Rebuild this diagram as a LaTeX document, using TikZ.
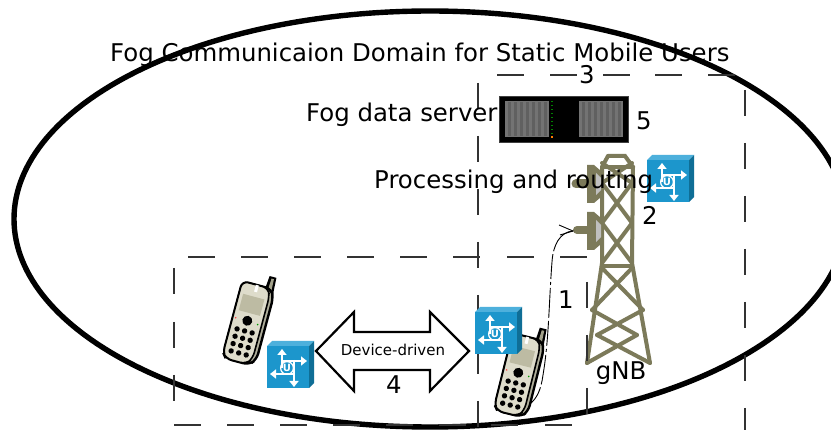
\documentclass[tikz,border=0pt]{standalone}
\usepackage{fontspec}
\usetikzlibrary{arrows.meta}
\setmainfont{DejaVu Sans}
\definecolor{towerc}{HTML}{7C7A5A}
\definecolor{routerf}{HTML}{1C96CC}
\definecolor{routers}{HTML}{0F6E96}
\definecolor{routert}{HTML}{4DB0DC}
\definecolor{dashc}{HTML}{333333}
\definecolor{phoneb}{HTML}{DEDCCB}
\definecolor{phones}{HTML}{BDBBA3}
\definecolor{rackc}{HTML}{808080}
\tikzset{
  x=1pt,y=-1pt,
  lab/.style={font=\fontsize{24.4}{28}\selectfont,inner sep=0pt,text=black},
  boxdash/.style={draw=dashc,line width=1.2pt},
  bar/.style={draw=towerc,line width=4pt,line cap=round},
  rarrow/.style={draw=white,line width=2.2pt,-{Triangle[width=9pt,length=6pt,fill=white]}},
  pics/router/.style={code={
    \fill[routerf] (0,0) rectangle (42,42);
    \fill[routert] (0,0) -- (5,-5) -- (47,-5) -- (42,0) -- cycle;
    \fill[routers] (42,0) -- (47,-5) -- (47,37) -- (42,42) -- cycle;
    \draw[rarrow] (15,22) -- (15,3);
    \draw[rarrow] (14,15) -- (40,15);
    \draw[rarrow] (27,14) -- (27,41);
    \draw[rarrow] (27,28) -- (3,28);
    \draw[white,line width=1.2pt] (20,22) circle (6.4);
    \node[white,inner sep=0pt,font=\fontsize{10}{10}\selectfont\bfseries] at (20,22) {U};
  }},
  pics/phone/.style={code={
    \fill[black] (8,-38) -- (9,-50) -- (16,-50) -- (17,-34) -- cycle;
    \fill[towerc!70] (11,-38) -- (11.5,-48) -- (14,-48) -- (14.5,-36) -- cycle;
    \draw[black,line width=2.4pt,fill=towerc!60!white,rounded corners=6pt] (-16,-38) -- (14,-38) -- (18,-30) -- (18,34) -- (12,41) -- (-12,41) -- (-16,36) -- cycle;
    \draw[black,line width=1.6pt,fill=phoneb,rounded corners=6pt] (-16,-38) -- (11,-38) -- (14,-30) -- (14,34) -- (9,41) -- (-12,41) -- (-16,36) -- cycle;
    \fill[phones] (-12,-26) rectangle (10,-9);
    \fill[white] (-2,-38) rectangle (1,-31);
    \fill[black] (-1,-1) circle (5);
    \fill[red!70] (-13,-1) circle (.9);
    \fill[green!60!black] (10,0) circle (.9);
    \foreach \r in {0,1,2,3} \foreach \c in {-1,0,1}
      \fill[black] ({-1+\c*7.8},{9.5+\r*7.6}) circle (2.7);
  }}
}
\begin{document}
\begin{tikzpicture}[line join=miter]
\useasboundingbox (0,0) rectangle (831,430);
\begin{scope}
\clip (0,0) rectangle (831,430);
\fill[white] (0,0) rectangle (831,430);
% ellipse
\draw[black,line width=5.4pt] (430,219) ellipse [x radius=416,y radius=208];
% tower
\draw[bar] (608,156) -- (625,156) -- (633,167) -- (632,263) -- (650,363);
\draw[bar] (608,156) -- (602,167) -- (602,263) -- (587,363);
\draw[bar] (602,167) -- (633,167);
\draw[bar] (602,163) -- (632,183) (632,163) -- (602,183);
\draw[bar] (602,183) -- (632,223) (632,183) -- (602,223);
\draw[bar] (602,223) -- (632,263) (632,223) -- (602,263);
\draw[bar] (602,266) -- (632,266);
\draw[bar] (602,268) -- (643,310) (632,268) -- (592,310);
\draw[bar] (592,310) -- (637,335) (643,310) -- (597,335);
\draw[bar] (597,335) -- (650,363) (637,335) -- (587,363);
% antennas
\foreach \yy in {165,212}{
  \fill[towerc] (587,\yy) -- (594,\yy) -- (601,{\yy+6}) -- (601,{\yy+32}) -- (594,{\yy+38}) -- (587,{\yy+38}) -- cycle;
  \fill[black!25] (596,{\yy+8}) -- (601,{\yy+13}) -- (601,{\yy+25}) -- (596,{\yy+30}) -- cycle;
}
\draw[towerc,line width=9pt,line cap=round] (576,184) -- (590,184);
\draw[towerc,line width=8pt,line cap=round] (577,230) -- (590,230);
% link
\coordinate (ant) at (573,231);
\coordinate (farend) at (530,404);
\draw[black,line width=.9pt] (559,225) -- (ant) -- (560,235);
\draw[black,line width=.9pt,dash pattern=on 30pt off 3pt on 25pt off 3pt on 3pt off 3pt] (ant) .. controls (560,232) and (553,245) .. (552,262) .. controls (549,300) and (549,340) .. (543,375) .. controls (541,390) and (537,398) .. (farend);
% server
\node[fill=black,draw=black!75,line width=.7pt,minimum width=129pt,minimum height=46pt,inner sep=0pt] (srv) at (563.5,119) {};
\foreach \xa in {505,579}{
  \fill[black!55] (\xa,101) rectangle ({\xa+44},137);
  \foreach \i in {0,...,6}
    \fill[black!25!rackc] ({\xa+3+\i*6},102) rectangle ({\xa+6+\i*6},136);
}
\foreach \yd in {101,105,...,137} \fill[green!50!black] (551,\yd) rectangle (553,{\yd+1.5});
\fill[orange] (551,136) rectangle (553,138);
% dashed boxes
\foreach \xs in {188,241,294,347,400,453,507,560} \draw[boxdash] (\xs,257) -- ({\xs+26.5},257);
\foreach \ys in {268,322,375} \draw[boxdash] (174,\ys) -- (174,{\ys+26.5});
\foreach \xs in {174,227,280,333,386,439,491,545} \draw[boxdash] (\xs,425) -- ({\xs+26.5},425);
\foreach \ys in {282,335,388} \draw[boxdash] (587,\ys) -- (587,{\ys+26.5});
\foreach \xs in {497,550,603,655,708} \draw[boxdash] (\xs,75) -- ({\xs+26.5},75);
\foreach \ys in {83,136,189,242,295,348,401} \draw[boxdash] (478,\ys) -- (478,{\ys+26.5});
\foreach \ys in {90,143,196,249,302,355,408} \draw[boxdash] (745,\ys) -- (745,{\ys+26.5});
% routers and phones
\pic at (647,160) {router};
\pic[rotate=-15] at (248,322) {phone};
\pic at (267,346) {router};
\pic[rotate=-14] at (519,374) {phone};
\pic at (475,312) {router};
% double arrow
\draw[black,line width=2.2pt,fill=white,line join=miter] (316,351) -- (354,312) -- (354,332) -- (430,332) -- (430,312) -- (469,351) -- (430,391) -- (430,370) -- (354,370) -- (354,391) -- cycle;
\node[font=\fontsize{15}{18}\selectfont,inner sep=0pt,text=black] (dd) at (393,350) {Device-driven};
% labels
\node[lab,anchor=base west] (title) at (110,62) {Fog Communicaion Domain for Static Mobile Users};
\node[lab,anchor=base west] (fds) at (306,122) {Fog data server};
\node[lab,anchor=base west] (par) at (374,189) {Processing and routing};
\node[lab] (n3) at (587,75) {3};
\node[lab] (n5) at (644,121) {5};
\node[lab] (n2) at (650,215) {2};
\node[lab] (n1) at (566,300) {1};
\node[lab] (n4) at (394,385) {4};
\node[lab] (gnb) at (621,373) {gNB};
\end{scope}
\end{tikzpicture}
\end{document}
